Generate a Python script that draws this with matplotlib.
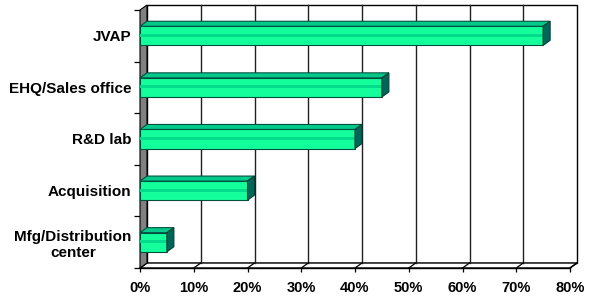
import matplotlib
matplotlib.use('Agg')
import matplotlib.pyplot as plt
from matplotlib.patches import Polygon

plt.rcParams['font.family'] = ['Liberation Sans', 'DejaVu Sans']

# data
categories = ['JVAP', 'EHQ/Sales office', 'R&D lab', 'Acquisition', 'Mfg/Distribution\ncenter']
values = [75, 45, 40, 20, 5]
xticks = [0, 10, 20, 30, 40, 50, 60, 70, 80]
xticklabels = ['0%', '10%', '20%', '30%', '40%', '50%', '60%', '70%', '80%']

W, H = 605, 304
fig = plt.figure(figsize=(W / 100, H / 100), dpi=100)
# front plane of the 3d box, in pixels
x0, x1, yt, yb = 140, 570, 10, 268
ax = fig.add_axes([x0 / W, (H - yb) / H, (x1 - x0) / W, (yb - yt) / H])

n = len(categories)
ypos = list(range(n - 1, -1, -1))
xmax = 80
ax.set_xlim(0, xmax)
ax.set_ylim(-0.5, n - 0.5)

# depth offset (7px right, 5px up) in data units
dx = 7 * xmax / (x1 - x0)
dy = 5 * n / (yb - yt)
lo, hi = -0.5, n - 0.5
edge = '#000000'

# back wall
ax.add_patch(Polygon([(dx, lo + dy), (xmax + dx, lo + dy), (xmax + dx, hi + dy), (dx, hi + dy)],
                     closed=True, fc='white', ec=edge, lw=1.0, clip_on=False, zorder=1))
for t in xticks[1:-1]:
    ax.plot([t + dx, t + dx], [lo + dy, hi + dy], color='#202020', lw=1.0, clip_on=False, zorder=1.5)
# floor
ax.add_patch(Polygon([(0, lo), (xmax, lo), (xmax + dx, lo + dy), (dx, lo + dy)],
                     closed=True, fc='white', ec=edge, lw=1.0, clip_on=False, zorder=1))
for t in xticks:
    ax.plot([t, t + dx], [lo, lo + dy], color=edge, lw=0.9, clip_on=False, zorder=1.6)
# side wall
ax.add_patch(Polygon([(0, lo), (0, hi), (dx, hi + dy), (dx, lo + dy)],
                     closed=True, fc='#808080', ec=edge, lw=0.8, clip_on=False, zorder=2))

# bars
bh = 0.37
for y, v in zip(ypos, values):
    b, t = y - bh / 2, y + bh / 2
    ax.add_patch(Polygon([(0, b), (v, b), (v, t), (0, t)], closed=True,
                         fc='#14ff9c', ec='#005040', lw=0.8, zorder=5, clip_on=False))
    ax.fill_between([0, v], y - 0.02, y + 0.04, color='#00dc8c', lw=0, zorder=5.5)
    ax.add_patch(Polygon([(0, t), (v, t), (v + dx, t + dy), (dx, t + dy)], closed=True,
                         fc='#00c98a', ec='#005040', lw=0.8, zorder=6, clip_on=False))
    ax.add_patch(Polygon([(v, b), (v, t), (v + dx, t + dy), (v + dx, b + dy)], closed=True,
                         fc='#00665a', ec='#004035', lw=0.8, zorder=6, clip_on=False))

for s in ax.spines.values():
    s.set_visible(False)
ax.plot([0, xmax], [lo, lo], color=edge, lw=1.0, clip_on=False, zorder=3)

ax.set_xticks(xticks)
ax.set_xticklabels(xticklabels, fontsize=10.5, fontweight='bold')
ax.tick_params(axis='x', length=3, width=0.9, pad=6)
ax.set_yticks(ypos)
ax.set_yticklabels(categories, fontsize=11, fontweight='bold', multialignment='center')
ax.tick_params(axis='y', which='major', length=0, pad=6)
ax.set_yticks([k - 0.5 for k in range(n + 1)], minor=True)
ax.tick_params(axis='y', which='minor', length=4, width=0.9)

fig.savefig('out.png', dpi=100)
